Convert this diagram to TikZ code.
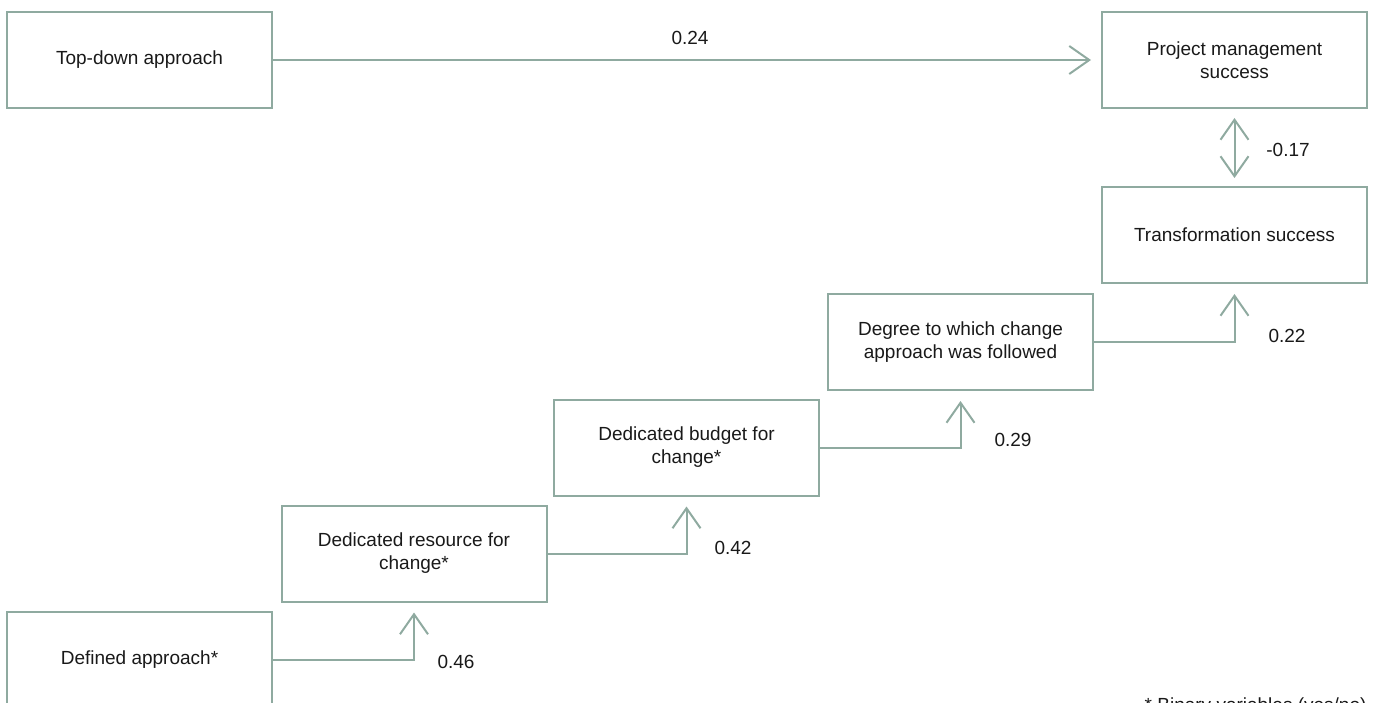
\documentclass[tikz,border=0pt]{standalone}
\usepackage{fontspec}
\setmainfont{Liberation Sans}
\usetikzlibrary{arrows.meta}
\definecolor{lc}{HTML}{8FAAA0}
\begin{document}
\begin{tikzpicture}[x=1pt,y=-1pt,
  box/.style={draw=lc,line width=2pt,minimum width=265pt,minimum height=96pt,inner sep=0pt,align=center,font=\fontsize{19}{23}\selectfont,text=black!90},
  lab/.style={font=\fontsize{19}{23}\selectfont,text=black!90},
  conn/.style={draw=lc,line width=2pt,-{Straight Barb[length=20pt,width=28pt,line width=2pt]},shorten >=10pt}]
\useasboundingbox (0,0) rectangle (1373,703);
\clip (0,0) rectangle (1373,703);
\node[box] (td) at (139.5,60) {Top-down approach};
\node[box] (pms) at (1234.5,60) {Project management\\success};
\node[box] (ts) at (1234.5,235) {Transformation success};
\node[box] (deg) at (960.5,342) {Degree to which change\\approach was followed};
\node[box] (bud) at (686.5,447.5) {Dedicated budget for\\change*};
\node[box] (res) at (414,553.5) {Dedicated resource for\\change*};
\node[box] (def) at (139.5,660) {Defined approach*};
\draw[conn] (td.east) -- (pms.west);
\draw[draw=lc,line width=2pt,{Straight Barb[length=20pt,width=28pt,line width=2pt]}-{Straight Barb[length=20pt,width=28pt,line width=2pt]},shorten >=8pt,shorten <=9pt] (pms.south) -- (ts.north);
\draw[conn] (deg.east) -| (ts.south);
\draw[conn] (bud.east) -| (deg.south);
\draw[conn] (res.east) -| (bud.south);
\draw[conn] (def.east) -| (res.south);
\node[lab] (l1) at (690,38) {0.24};
\node[lab] (l2) at (1288,150) {-0.17};
\node[lab] (l3) at (1287,336) {0.22};
\node[lab] (l4) at (1013,440) {0.29};
\node[lab] (l5) at (733,548) {0.42};
\node[lab] (l6) at (456,662) {0.46};
\node[lab,anchor=base east] (fn) at (1370,711) {* Binary variables (yes/no)};
\end{tikzpicture}
\end{document}
